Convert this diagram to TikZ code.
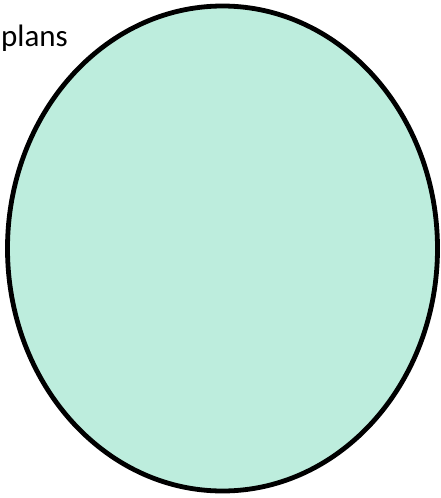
\documentclass[tikz,border=0pt]{standalone}
\usepackage{fontspec}
\setmainfont{Carlito}
\definecolor{mint}{RGB}{189,237,221}
\tikzset{
  setshape/.style={draw=black, line width=4.8pt, fill=mint},
  lbl/.style={anchor=base west, inner sep=0pt, font=\fontsize{31}{36}\selectfont}
}
\begin{document}
\begin{tikzpicture}[x=1pt,y=-1pt]
\useasboundingbox (0,0) rectangle (441,498);
\draw[setshape] (222.5,248.5) ellipse [x radius=215, y radius=242.5];
\node[lbl] (plans) at (1,46) {plans};
\end{tikzpicture}
\end{document}
